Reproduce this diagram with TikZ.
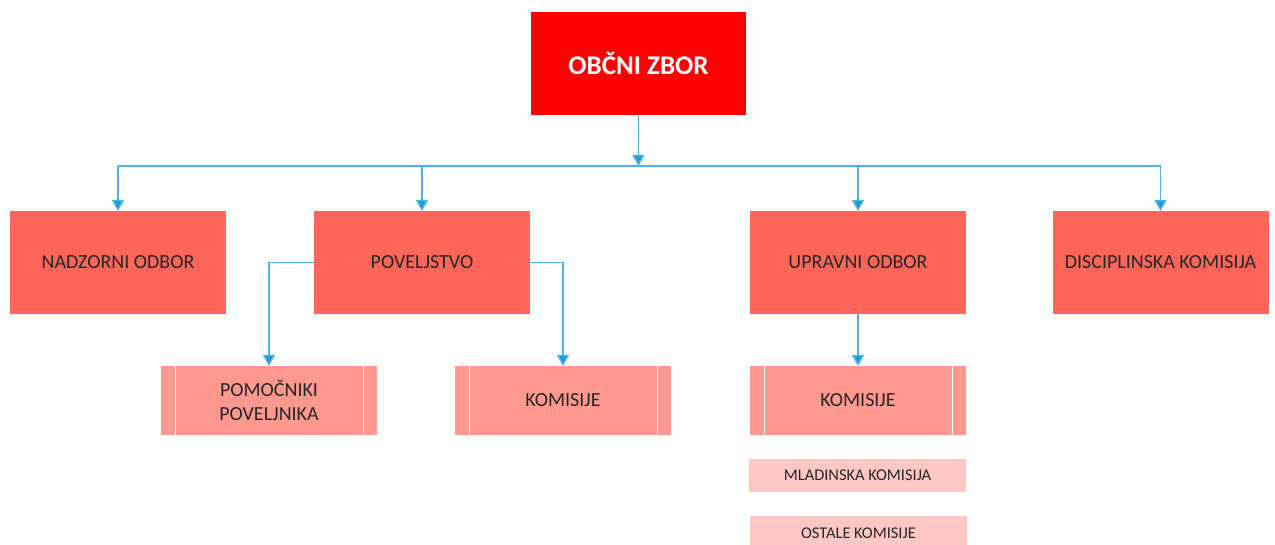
\documentclass[tikz,border=0pt]{standalone}
\usepackage{fontspec}
\setmainfont{Carlito}
\usetikzlibrary{arrows.meta}

\definecolor{zbor}{HTML}{FF0000}
\definecolor{odbor}{HTML}{FF665A}
\definecolor{komis}{HTML}{FF9990}
\definecolor{podkom}{HTML}{FFC8C4}
\definecolor{vez}{HTML}{4DB3E6}
\definecolor{vezkonec}{HTML}{1E9AD9}

\tikzset{
  glavni/.style={fill=zbor, minimum width=107.5pt, minimum height=51.5pt,
    text=white, font=\fontsize{13.5}{15}\selectfont\bfseries},
  organ/.style={fill=odbor, minimum width=108pt, minimum height=51.5pt,
    font=\fontsize{10}{11}\selectfont, align=center},
  podorgan/.style={fill=komis, minimum width=108pt, minimum height=34.5pt,
    font=\fontsize{10}{12}\selectfont, align=center},
  komisija/.style={fill=podkom, minimum width=108.5pt, minimum height=16.5pt,
    font=\fontsize{8.2}{9}\selectfont},
  povezava/.style={draw=vez, line width=0.75pt,
    -{Triangle[width=6pt,length=5.5pt,fill=vezkonec]}},
}

\begin{document}
\begin{tikzpicture}[x=0.5pt, y=-0.5pt, inner sep=0pt, outer sep=0pt, text=black!85]
    \useasboundingbox (0,0) rectangle (1275,545);

    % vrh
    \node[glavni] (zbor) at (638.5,63.5) {OBČNI ZBOR};

    % drugi nivo
    \node[organ] (nadzor) at (118,262.5) {NADZORNI ODBOR};
    \node[organ] (povelj) at (422,262.5) {POVELJSTVO};
    \node[organ] (uprava) at (858,262.5) {UPRAVNI ODBOR};
    \node[organ] (disc) at (1160.5,262.5) {DISCIPLINSKA KOMISIJA};

    % tretji nivo
    \node[podorgan] (pomoc) at (269,400.5) {POMOČNIKI\\POVELJNIKA};
    \node[podorgan] (kompov) at (563,400.5) {KOMISIJE};
    \node[podorgan] (komupr) at (858,400.5) {KOMISIJE};
    \foreach \n in {pomoc,kompov,komupr} {
      \draw[white, line width=0.5pt] ([xshift=7pt]\n.north west) -- ([xshift=7pt]\n.south west);
      \draw[white, line width=0.5pt] ([xshift=-7pt]\n.north east) -- ([xshift=-7pt]\n.south east);
    }

    % komisije
    \node[komisija] (mlad) at (857.5,475.5) {MLADINSKA KOMISIJA};
    \node[komisija, minimum height=17pt] (ostale) at (858.5,533) {OSTALE KOMISIJE};

    % povezave
    \coordinate (raz) at (638.5,166);
    \draw[povezava] (zbor.south) -- (raz);
    \draw[draw=vez, line width=0.75pt] (118,166) -- (1161,166);
    \draw[povezava] (raz -| nadzor) -- (nadzor.north);
    \draw[povezava] (raz -| povelj) -- (povelj.north);
    \draw[povezava] (raz -| uprava) -- (uprava.north);
    \draw[povezava] (raz -| disc) -- (disc.north);

    \draw[povezava] (povelj.west) -| (pomoc.north);
    \draw[povezava] (povelj.east) -| (kompov.north);
    \draw[povezava] (uprava.south) -- (komupr.north);
\end{tikzpicture}
\end{document}
